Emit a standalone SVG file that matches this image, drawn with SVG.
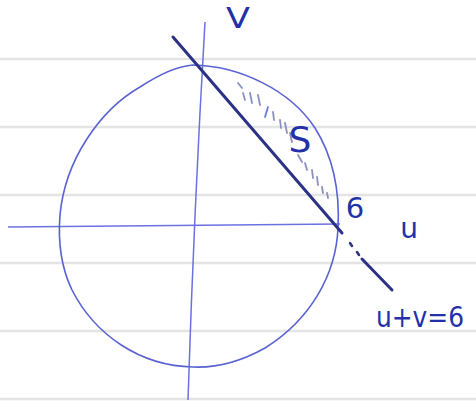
<svg xmlns="http://www.w3.org/2000/svg" width="476" height="410" viewBox="0 0 476 410">
<style>
.rule{stroke:#e4e4e4;stroke-width:2.5;fill:none}
.axis{stroke:#6a72e0;stroke-width:1.5;fill:none}
.circ{stroke:#5a62d2;stroke-width:1.6;fill:none}
.ln{stroke:#2b3185;stroke-width:3;fill:none;stroke-linecap:round}
.hatch{stroke:#8a90c0;stroke-width:1.8;stroke-linecap:round}
.lbl{font-family:"DejaVu Sans","Liberation Sans",sans-serif;fill:#2430a8}
</style>
<rect width="476" height="410" fill="#ffffff"/>
<g id="paper">
<line class="rule" x1="0" y1="59" x2="476" y2="59"/>
<line class="rule" x1="0" y1="127" x2="476" y2="127"/>
<line class="rule" x1="0" y1="195" x2="476" y2="195"/>
<line class="rule" x1="0" y1="263" x2="476" y2="263"/>
<line class="rule" x1="0" y1="331" x2="476" y2="331"/>
<line class="rule" x1="0" y1="399" x2="476" y2="399"/>
</g>
<g id="axes">
<path class="axis" d="M8,227 L340,224"/>
<path class="axis" d="M205,22 Q194,210 188,400"/>
</g>
<g id="circle">
<path class="circ" d="M193,65 C240,66 290,90 315,128 C332,155 340,190 338,228 C336,275 310,320 265,348 C240,362 215,368 193,367 C140,366 95,335 72,290 C60,265 58,240 60,215 C65,160 100,110 140,87 C160,74 178,66 193,65 Z"/>
</g>
<g id="hatch">
<line class="hatch" x1="238" y1="83" x2="242" y2="88"/>
<line class="hatch" x1="243" y1="93" x2="245" y2="100"/>
<line class="hatch" x1="250" y1="93" x2="252" y2="103"/>
<line class="hatch" x1="258" y1="95" x2="260" y2="105"/>
<line class="hatch" x1="265" y1="117" x2="268" y2="107" style="stroke:#6a78e0"/>
<line class="hatch" x1="273" y1="112" x2="274" y2="120"/>
<line class="hatch" x1="280" y1="120" x2="281" y2="128"/>
<line class="hatch" x1="285" y1="123" x2="287" y2="133"/>
<line class="hatch" x1="290" y1="133" x2="292" y2="142"/>
<line class="hatch" x1="298" y1="155" x2="302" y2="162"/>
<line class="hatch" x1="305" y1="163" x2="307" y2="170"/>
<line class="hatch" x1="312" y1="170" x2="313" y2="178"/>
<line class="hatch" x1="317" y1="177" x2="318" y2="185"/>
<line class="hatch" x1="322" y1="187" x2="323" y2="193"/>
<line class="hatch" x1="327" y1="193" x2="328" y2="198"/>
</g>
<g id="line-u-plus-v">
<path class="ln" d="M173,37 L342,233"/>
<path class="ln" d="M350,243 L352,246 M357,252 L359,255" style="stroke-width:2.5"/>
<path class="ln" d="M362,259 L392,290"/>
</g>
<g id="labels">
<text class="lbl" x="238" y="28" font-size="28" text-anchor="middle" transform="translate(238 0) scale(1.25 1) translate(-238 0)">V</text>
<text class="lbl" x="300" y="152" font-size="36" text-anchor="middle">S</text>
<text class="lbl" x="355" y="218" font-size="29" text-anchor="middle">6</text>
<text class="lbl" x="409" y="238" font-size="28" text-anchor="middle">u</text>
<text class="lbl" x="376" y="327" font-size="28" textLength="88" lengthAdjust="spacingAndGlyphs">u+v=6</text>
</g>
</svg>
